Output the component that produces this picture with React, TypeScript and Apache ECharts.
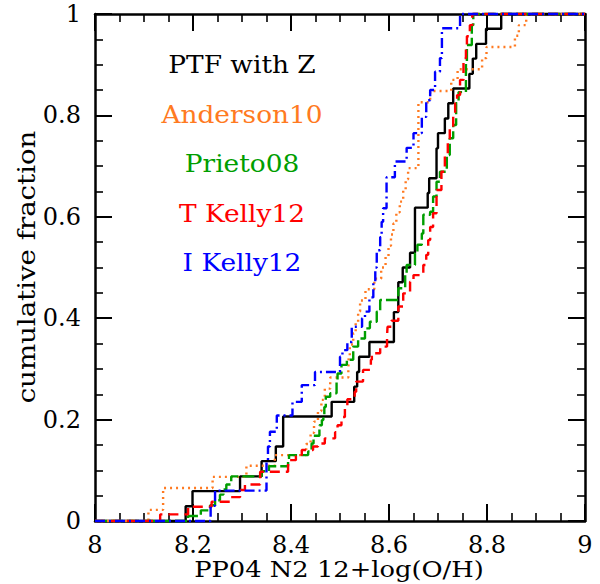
import React, { useEffect, useRef } from 'react';
import * as echarts from 'echarts';

// ---- data ----
const seriesNames = ['PTF with Z', 'Anderson10', 'Prieto08', 'T Kelly12', 'I Kelly12'];
const seriesColors = ['#000000', '#ff7a21', '#009e00', '#ff0000', '#0000ff'];

// jump positions (12+log(O/H)) and cumulative fraction after each jump
const ptfX = [8.185, 8.199, 8.296, 8.340, 8.369, 8.384, 8.483, 8.529, 8.535, 8.539, 8.560, 8.610, 8.619, 8.628, 8.643, 8.653, 8.679, 8.682, 8.697, 8.700, 8.714, 8.721, 8.731, 8.764, 8.771, 8.778, 8.798, 8.829];
const ptfF = [0.029, 0.059, 0.088, 0.118, 0.147, 0.206, 0.235, 0.265, 0.294, 0.324, 0.353, 0.412, 0.471, 0.500, 0.529, 0.618, 0.647, 0.676, 0.735, 0.765, 0.794, 0.824, 0.853, 0.882, 0.912, 0.941, 0.971, 1.0];

const andX = [8.109, 8.139, 8.240, 8.309, 8.367, 8.431, 8.440, 8.447, 8.455, 8.462, 8.469, 8.480, 8.517, 8.518, 8.520, 8.527, 8.532, 8.537, 8.541, 8.552, 8.570, 8.584, 8.593, 8.599, 8.604, 8.609, 8.615, 8.622, 8.629, 8.634, 8.639, 8.660, 8.684, 8.727, 8.740, 8.790, 8.799, 8.857, 8.865, 8.880];
const andF = [0.022, 0.065, 0.087, 0.109, 0.130, 0.152, 0.174, 0.196, 0.217, 0.239, 0.261, 0.283, 0.304, 0.326, 0.348, 0.370, 0.391, 0.413, 0.435, 0.457, 0.478, 0.500, 0.522, 0.543, 0.565, 0.587, 0.609, 0.630, 0.652, 0.674, 0.696, 0.826, 0.848, 0.870, 0.891, 0.913, 0.935, 0.957, 0.978, 1.0];

const priX = [8.190, 8.216, 8.235, 8.245, 8.255, 8.262, 8.268, 8.278, 8.340, 8.355, 8.394, 8.396, 8.435, 8.442, 8.446, 8.458, 8.463, 8.466, 8.468, 8.471, 8.480, 8.493, 8.495, 8.503, 8.514, 8.527, 8.537, 8.551, 8.561, 8.575, 8.582, 8.619, 8.633, 8.636, 8.653, 8.658, 8.667, 8.670, 8.684, 8.690, 8.697, 8.704, 8.718, 8.724, 8.731, 8.737, 8.742, 8.757, 8.759, 8.769, 8.772];
const priF = [0.010, 0.021, 0.031, 0.041, 0.052, 0.062, 0.072, 0.088, 0.098, 0.108, 0.120, 0.130, 0.137, 0.153, 0.168, 0.189, 0.199, 0.210, 0.225, 0.245, 0.252, 0.275, 0.291, 0.308, 0.318, 0.344, 0.360, 0.380, 0.393, 0.413, 0.436, 0.459, 0.485, 0.505, 0.528, 0.545, 0.567, 0.604, 0.610, 0.640, 0.669, 0.689, 0.722, 0.755, 0.781, 0.824, 0.846, 0.903, 0.939, 0.978, 1.0];

const tkX = [8.133, 8.190, 8.238, 8.276, 8.296, 8.306, 8.337, 8.394, 8.410, 8.422, 8.445, 8.455, 8.469, 8.490, 8.495, 8.503, 8.510, 8.515, 8.530, 8.533, 8.547, 8.563, 8.565, 8.582, 8.596, 8.597, 8.605, 8.619, 8.629, 8.643, 8.650, 8.670, 8.676, 8.680, 8.684, 8.690, 8.697, 8.707, 8.714, 8.720, 8.724, 8.731, 8.735, 8.739, 8.745, 8.752, 8.757, 8.759, 8.765, 8.770];
const tkF = [0.013, 0.028, 0.038, 0.047, 0.061, 0.072, 0.097, 0.120, 0.128, 0.140, 0.147, 0.153, 0.163, 0.175, 0.189, 0.205, 0.222, 0.240, 0.255, 0.275, 0.298, 0.318, 0.331, 0.344, 0.365, 0.383, 0.395, 0.423, 0.449, 0.472, 0.485, 0.505, 0.525, 0.554, 0.580, 0.607, 0.653, 0.689, 0.722, 0.750, 0.775, 0.800, 0.824, 0.840, 0.870, 0.913, 0.935, 0.956, 0.978, 1.0];

const ikX = [8.236, 8.245, 8.350, 8.353, 8.357, 8.371, 8.403, 8.422, 8.449, 8.500, 8.505, 8.515, 8.524, 8.545, 8.551, 8.560, 8.568, 8.572, 8.575, 8.582, 8.585, 8.588, 8.595, 8.612, 8.636, 8.650, 8.667, 8.676, 8.684, 8.694, 8.704, 8.708, 8.745];
const ikF = [0.030, 0.060, 0.118, 0.147, 0.176, 0.208, 0.235, 0.268, 0.294, 0.324, 0.337, 0.353, 0.383, 0.400, 0.413, 0.441, 0.469, 0.500, 0.534, 0.560, 0.590, 0.617, 0.678, 0.709, 0.736, 0.765, 0.797, 0.830, 0.850, 0.886, 0.913, 0.972, 1.0];

const xMin = 8, xMax = 9, xStep = 0.2;
const yMin = 0, yMax = 1, yStep = 0.2;
const xTitle = 'PP04 N2 12+log(O/H)';
const yTitle = 'cumulative fraction';

function stepData(xs: number[], fs: number[]) {
  const d: number[][] = [[xMin, 0]];
  xs.forEach((x, i) => d.push([x, fs[i]]));
  d.push([xMax, 1]);
  return d;
}

const SERIF = '"DejaVu Serif", serif';

export default function App() {
  const ref = useRef<HTMLDivElement>(null);
  useEffect(() => {
    document.body.style.margin = '0';
    const chart = echarts.init(ref.current!, null, { renderer: 'svg' });
    const fmt = (v: number) => String(Math.round(v * 10) / 10);
    const tickCommon = {
      axisLine: { show: true, onZero: false, lineStyle: { color: '#000', width: 2.5 } },
      axisTick: { show: true, inside: true, length: 17, lineStyle: { color: '#000', width: 2 } },
      minorTick: { show: true, splitNumber: 4, length: 8, lineStyle: { color: '#000', width: 1.6 } },
      splitLine: { show: false },
      minorSplitLine: { show: false },
    };
    const styles = [
      { type: 'solid' as any },
      { type: [2, 4] as any },
      { type: [12, 4] as any },
      { type: [10, 6] as any },
      { type: [10, 4, 2, 4] as any },
    ];
    const datas = [
      stepData(ptfX, ptfF),
      stepData(andX, andF),
      stepData(priX, priF),
      stepData(tkX, tkF),
      stepData(ikX, ikF),
    ];
    const labelStyle = { fontSize: 24, fontFamily: SERIF, color: '#000', formatter: fmt };
    chart.setOption({
      animation: false,
      grid: { left: 95, right: 15, top: 14, bottom: 63 },
      xAxis: [
        {
          type: 'value', min: xMin, max: xMax, interval: xStep, position: 'bottom',
          ...tickCommon,
          axisLabel: { margin: 12, ...labelStyle },
        },
        {
          type: 'value', min: xMin, max: xMax, interval: xStep, position: 'top',
          ...tickCommon, axisLabel: { show: false },
        },
      ],
      yAxis: [
        {
          type: 'value', min: yMin, max: yMax, interval: yStep, position: 'left',
          ...tickCommon,
          axisLabel: { margin: 14, ...labelStyle },
        },
        {
          type: 'value', min: yMin, max: yMax, interval: yStep, position: 'right',
          ...tickCommon, axisLabel: { show: false },
        },
      ],
      series: datas.map((d, i) => ({
        name: seriesNames[i],
        type: 'line',
        step: 'end',
        data: d,
        showSymbol: false,
        symbol: 'none',
        clip: false,
        z: 2 + i,
        lineStyle: { color: seriesColors[i], width: 2.4, type: styles[i].type },
      })),
      graphic: [
        ...seriesNames.map((n, i) => ({
          type: 'text',
          x: 242,
          y: 65 + 49.6 * i,
          scaleX: 1.1,
          style: {
            text: n,
            fill: seriesColors[i],
            font: `24px ${SERIF}`,
            textAlign: 'center',
            textVerticalAlign: 'middle',
          },
        })),
        {
          type: 'text',
          x: 339,
          y: 569,
          scaleX: 1.12,
          style: { text: xTitle, fill: '#000', font: `23px ${SERIF}`, textAlign: 'center', textVerticalAlign: 'middle' },
        },
        {
          type: 'text',
          x: 27,
          y: 267,
          rotation: Math.PI / 2,
          scaleX: 1.15,
          style: { text: yTitle, fill: '#000', font: `24px ${SERIF}`, textAlign: 'center', textVerticalAlign: 'middle' },
        },
      ],
    });
    return () => chart.dispose();
  }, []);
  return <div ref={ref} style={{ width: 600, height: 584 }} />;
}
